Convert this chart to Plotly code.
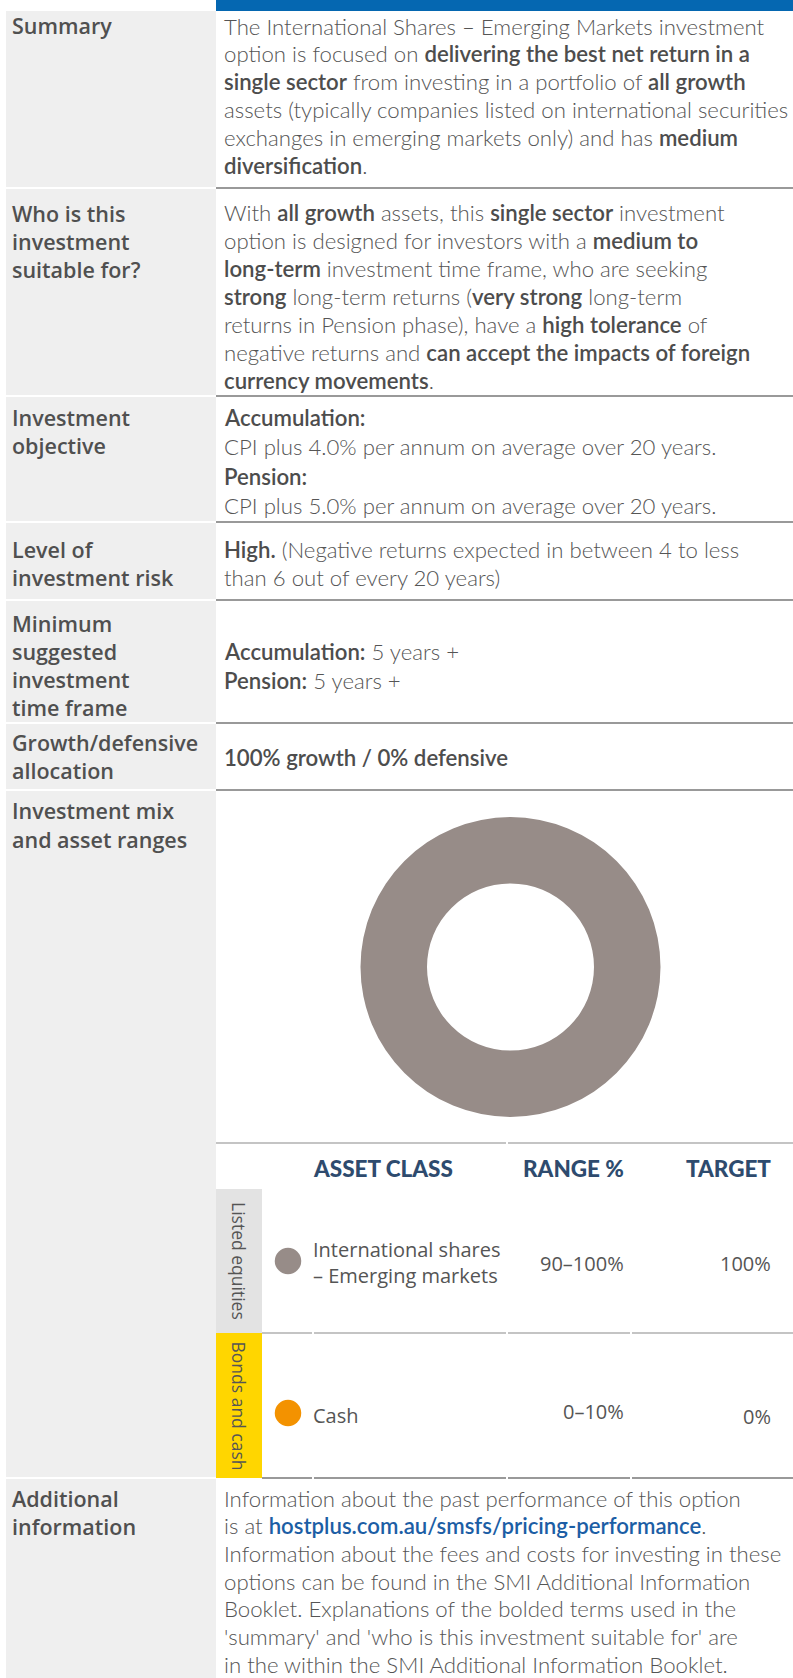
import plotly.graph_objects as go

W, H = 793, 1678

# ---------------- data ----------------
asset_classes = ["International shares<br>– Emerging markets", "Cash"]
asset_groups = ["Listed equities", "Bonds and cash"]
range_labels = ["90–100%", "0–10%"]
target_values = [100, 0]
asset_colors = ["#978c88", "#f39200"]
group_colors = ["#e3e3e3", "#ffd600"]
table_headers = ["ASSET CLASS", "RANGE %", "TARGET"]

B = '<span style="font-weight:600;color:#4d4d4d">'
E = '</span>'
LINK = '<span style="font-weight:600;color:#1c5ea5">'

row_labels = [
    ["Summary"],
    ["Who is this", "investment", "suitable for?"],
    ["Investment", "objective"],
    ["Level of", "investment risk"],
    ["Minimum", "suggested", "investment", "time frame"],
    ["Growth/defensive", "allocation"],
    ["Investment mix", "and asset ranges"],
    ["Additional", "information"],
]

row_texts = [
    ["The International Shares – Emerging Markets investment",
     f"option is focused on {B}delivering the best net return in a{E}",
     f"{B}single sector{E} from investing in a portfolio of {B}all growth{E}",
     "assets (typically companies listed on international securities",
     f"exchanges in emerging markets only) and has {B}medium{E}",
     f"{B}diversification{E}."],
    [f"With {B}all growth{E} assets, this {B}single sector{E} investment",
     f"option is designed for investors with a {B}medium to{E}",
     f"{B}long-term{E} investment time frame, who are seeking",
     f"{B}strong{E} long-term returns ({B}very strong{E} long-term",
     f"returns in Pension phase), have a {B}high tolerance{E} of",
     f"negative returns and {B}can accept the impacts of foreign{E}",
     f"{B}currency movements{E}."],
    [f"{B}Accumulation:{E}",
     "CPI plus 4.0% per annum on average over 20 years.",
     f"{B}Pension:{E}",
     "CPI plus 5.0% per annum on average over 20 years."],
    [f"{B}High.{E} (Negative returns expected in between 4 to less",
     "than 6 out of every 20 years)"],
    [f"{B}Accumulation:{E} 5 years +",
     f"{B}Pension:{E} 5 years +"],
    [f"{B}100% growth / 0% defensive{E}"],
    [],
    ["Information about the past performance of this option",
     f"is at {LINK}hostplus.com.au/smsfs/pricing-performance{E}.",
     "Information about the fees and costs for investing in these",
     "options can be found in the SMI Additional Information",
     "Booklet. Explanations of the bolded terms used in the",
     "'summary' and 'who is this investment suitable for' are",
     "in the within the SMI Additional Information Booklet."],
]

# ---------------- layout geometry ----------------
LEFT_X0, LEFT_X1 = 6, 216
LABEL_X = 10
BODY_X = 222
TOP = 11
separators = [188, 396, 522, 600, 723, 790, 1478]
label_y = [(25, 28), (213, 28), (417, 28), (549, 28), (623, 28), (742, 28), (810, 29), (1498, 28)]
body_y = [(26, 27.9), (212, 28), (417, 29.5), (549, 28), (651, 29), (757, 28), (0, 0), (1498, 27.7)]

text_font = dict(family="Lato, 'Open Sans', sans-serif", size=22.2, color="#555555", weight=300)
label_font = dict(family="'Open Sans', Lato, sans-serif", size=21.5, color="#505050", weight=600)

fig = go.Figure()

shapes = []
# top blue bar
shapes.append(dict(type="rect", x0=LEFT_X1, x1=W, y0=0, y1=TOP, fillcolor="#0567b1", line_width=0, layer="below"))
# left column cells
bounds = [TOP] + separators + [H]
for i in range(len(bounds) - 1):
    y0 = bounds[i] + (1 if i > 0 else 0)
    y1 = bounds[i + 1] - 1 if i + 1 < len(bounds) - 1 else H
    shapes.append(dict(type="rect", x0=LEFT_X0, x1=LEFT_X1, y0=y0, y1=y1,
                       fillcolor="#efefef", line_width=0, layer="below"))

# table geometry
TAB_X0, TAB_X1 = 216, 262
HEADER_LINE = 1143
HEADER_Y = 1168
group_bounds = [(1189, 1333), (1333, 1478)]
dot_rows = [1261, 1413]
name_rows = [1262, 1415.5]
range_rows = [1263, 1411.5]
target_rows = [1263, 1416.5]
DOT_X = 288
NAME_X = 311
RANGE_RIGHT = 625.5
TARGET_RIGHT = 772.5
col_breaks = [313, 507, 631]

for (g0, g1), c in zip(group_bounds, group_colors):
    shapes.append(dict(type="rect", x0=TAB_X0, x1=TAB_X1, y0=g0, y1=g1, fillcolor=c, line_width=0, layer="below"))

def seg_line(x0, x1, y, color, width, breaks=()):
    pts = [x0] + [b for b in breaks if x0 < b < x1] + [x1]
    for a, b in zip(pts[:-1], pts[1:]):
        shapes.append(dict(type="line", x0=a + (1 if a != x0 else 0), x1=b - (1 if b != x1 else 0),
                           y0=y, y1=y, line=dict(color=color, width=width)))

# separator lines
for s in separators:
    if s == 1478:
        seg_line(TAB_X1, W, s, "#777777", 1.5, col_breaks)
    else:
        seg_line(LEFT_X1, W, s, "#777777", 1.5)
seg_line(LEFT_X1, W, HEADER_LINE, "#8a8a8a", 1.2, [507])
seg_line(TAB_X1, W, group_bounds[0][1], "#8a8a8a", 1.2, col_breaks)

annotations = []
def add_text(x, y, text, font, xanchor="left", textangle=0):
    annotations.append(dict(x=x, y=y, xref="x", yref="y", text=text, showarrow=False,
                            xanchor=xanchor, yanchor="middle", font=font, textangle=textangle,
                            align="left" if xanchor == "left" else ("right" if xanchor == "right" else "center")))

for labels, (ly0, lstep) in zip(row_labels, label_y):
    for k, t in enumerate(labels):
        add_text(LABEL_X, ly0 + k * lstep, t, label_font)
for texts, (by0, bstep) in zip(row_texts, body_y):
    for k, t in enumerate(texts):
        add_text(BODY_X, by0 + k * bstep, t, text_font)

# table headers
hdr_font = dict(family="Lato, sans-serif", size=22.5, color="#2e4b6e", weight=900)
add_text(NAME_X, HEADER_Y, table_headers[0], hdr_font)
add_text(RANGE_RIGHT, HEADER_Y, table_headers[1], hdr_font, xanchor="right")
add_text(TARGET_RIGHT, HEADER_Y, table_headers[2], hdr_font, xanchor="right")

cell_font = dict(family="'Open Sans', Lato, sans-serif", size=20, color="#555555", weight=400)
tab_font = dict(family="'Open Sans', Lato, sans-serif", size=17.5, color="#555555", weight=400)
for i in range(len(asset_classes)):
    (g0, g1) = group_bounds[i]
    add_text((TAB_X0 + TAB_X1) / 2, (g0 + g1) / 2, asset_groups[i], tab_font, xanchor="center", textangle=90)
    add_text(NAME_X, name_rows[i], asset_classes[i], cell_font)
    add_text(RANGE_RIGHT, range_rows[i], range_labels[i], cell_font, xanchor="right")
    add_text(TARGET_RIGHT, target_rows[i], f"{target_values[i]}%", cell_font, xanchor="right")

# legend dots
fig.add_trace(go.Scatter(x=[DOT_X] * len(asset_classes), y=dot_rows, mode="markers",
                         marker=dict(size=26.5, color=asset_colors, line_width=0),
                         hoverinfo="skip", showlegend=False))

# donut
CX, CY, R = 510.5, 967, 150
fig.add_trace(go.Pie(values=target_values, labels=[a.replace("<br>", " ") for a in asset_classes],
                     marker=dict(colors=asset_colors, line=dict(width=0)),
                     hole=83.5 / 150, sort=False, direction="clockwise", textinfo="none",
                     showlegend=False,
                     domain=dict(x=[(CX - R) / W, (CX + R) / W], y=[1 - (CY + R) / H, 1 - (CY - R) / H])))

fig.update_layout(
    width=W, height=H, margin=dict(l=0, r=0, t=0, b=0),
    paper_bgcolor="white", plot_bgcolor="white",
    xaxis=dict(range=[0, W], visible=False, fixedrange=True),
    yaxis=dict(range=[H, 0], visible=False, fixedrange=True),
    shapes=shapes, annotations=annotations, showlegend=False,
)

fig.write_html("out.html", config={"displayModeBar": False},
               post_script="document.body.style.margin='0';")
